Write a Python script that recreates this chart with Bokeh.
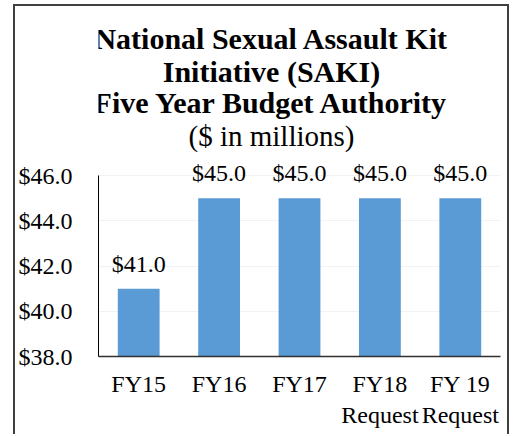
from bokeh.plotting import figure
from bokeh.models import (ColumnDataSource, Range1d, FixedTicker, NumeralTickFormatter,
                          LabelSet, Label)
from bokeh.embed import file_html
from bokeh.resources import INLINE

categories = ["FY15", "FY16", "FY17", "FY18\nRequest", "FY 19\nRequest"]
values = [41.0, 45.0, 45.0, 45.0, 45.0]
value_labels = ["$41.0", "$45.0", "$45.0", "$45.0", "$45.0"]
y_ticks = [38, 40, 42, 44, 46]
title_lines = ["National Sexual Assault Kit", "Initiative (SAKI)", "Five Year Budget Authority"]
subtitle = "($ in millions)"

FONT = "Liberation Serif"

# layout: frame extends up to the top so the titles live inside it
FRAME_H = 350          # pixels
AXIS_PX = 181          # pixels spanned by 38..46
y0, y1 = y_ticks[0], y_ticks[-1]
y_top = y0 + (y1 - y0) * FRAME_H / AXIS_PX

src = ColumnDataSource(dict(cat=categories, val=values, lab=value_labels))

p = figure(x_range=categories, y_range=Range1d(y0, y_top), width=496, height=430,
           title=None, output_backend="svg", toolbar_location=None,
           min_border_left=83, min_border_right=11, min_border_top=0, min_border_bottom=80)
p.margin = (4, 0, 0, 13)
p.styles = {"border-left": "2px solid #404040", "border-top": "2px solid #404040",
            "border-right": "2px solid #404040"}
p.outline_line_color = None
p.background_fill_color = "white"
p.border_fill_color = "white"

p.vbar(x="cat", top="val", bottom=y0, width=0.52, source=src,
       fill_color="#5b9bd5", line_color=None)

# axes
p.yaxis.bounds = (y0, y1)
p.yaxis.ticker = FixedTicker(ticks=y_ticks)
p.yaxis.formatter = NumeralTickFormatter(format="$0.0")
p.yaxis.major_tick_line_color = None
p.yaxis.major_tick_out = 0
p.yaxis.major_tick_in = 0
p.yaxis.minor_tick_line_color = None
p.yaxis.axis_line_color = "black"
p.yaxis.axis_line_width = 1
p.yaxis.major_label_standoff = 26
p.yaxis.major_label_text_font = FONT
p.yaxis.major_label_text_font_size = "24px"
p.yaxis.major_label_text_color = "black"

p.xaxis.major_tick_line_color = None
p.xaxis.major_tick_out = 0
p.xaxis.major_tick_in = 0
p.xaxis.minor_tick_line_color = None
p.xaxis.axis_line_color = "#303030"
p.xaxis.axis_line_width = 1.5
p.xaxis.major_label_standoff = 14
p.xaxis.major_label_text_font = FONT
p.xaxis.major_label_text_font_size = "24px"
p.xaxis.major_label_text_color = "black"

p.xgrid.grid_line_color = None
p.ygrid.grid_line_color = "#f2f2f2"
p.ygrid.ticker = FixedTicker(ticks=y_ticks)

labels = LabelSet(x="cat", y="val", text="lab", source=src, y_offset=12,
                  text_align="center", text_baseline="bottom",
                  text_font=FONT, text_font_size="24px", text_color="black")
p.add_layout(labels)

# titles (screen units, relative to the frame's bottom-left corner)
tx = 173
for txt, ty in zip(title_lines, [318, 285, 254]):
    p.add_layout(Label(x=tx, y=ty, x_units="screen", y_units="screen", text=txt,
                       text_align="center", text_baseline="middle", text_font=FONT,
                       text_font_size="30px", text_font_style="bold", text_color="black"))
p.add_layout(Label(x=tx, y=221, x_units="screen", y_units="screen", text=subtitle,
                   text_align="center", text_baseline="middle", text_font=FONT,
                   text_font_size="29px", text_color="black"))

open("out.html", "w").write(file_html(p, INLINE))
